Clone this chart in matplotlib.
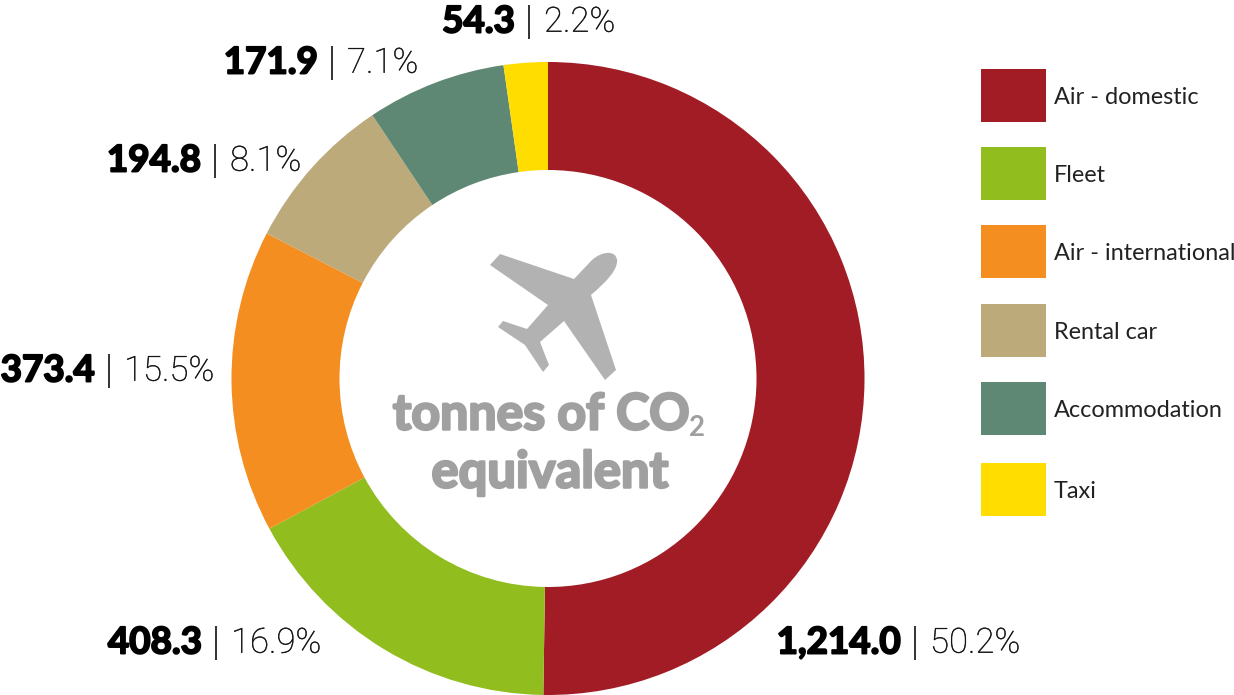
import matplotlib
matplotlib.use("Agg")
import matplotlib.pyplot as plt
import matplotlib.patheffects as pe
from matplotlib.patches import PathPatch, Rectangle
from matplotlib.path import Path

categories = ["Air - domestic", "Fleet", "Air - international", "Rental car", "Accommodation", "Taxi"]
tonnes = [1214.0, 408.3, 373.4, 194.8, 171.9, 54.3]
value_labels = ["1,214.0", "408.3", "373.4", "194.8", "171.9", "54.3"]
share_labels = ["50.2%", "16.9%", "15.5%", "8.1%", "7.1%", "2.2%"]
colors = ["#A21C26", "#91BD1F", "#F48E20", "#BDAA7B", "#5E8873", "#FFDD00"]

W, H = 1234, 695
fig = plt.figure(figsize=(W / 100, H / 100), dpi=100)
ax = fig.add_axes([0, 0, 1, 1])

# The y axis runs downward, so a counter-clockwise pie reads clockwise from the top.
cx, cy, R = 548, 378.5, 316.5
ax.pie(tonnes, colors=colors, startangle=-90, counterclock=True, center=(cx, cy), radius=R,
       wedgeprops=dict(width=R - 208.5, linewidth=0), frame=True)
ax.set_xlim(0, W)
ax.set_ylim(H, 0)
ax.set_aspect("equal")
ax.axis("off")


def heavy(color, width):
    """Thicken a bold face with an outline of its own colour."""
    return [pe.withStroke(linewidth=width, foreground=color)]


# value | share labels, anchored on the divider bar
label_pos = [(915, 643), (216, 643), (109, 371), (215, 161), (332, 63), (529, 22)]
for (x, y), v, s in zip(label_pos, value_labels, share_labels):
    ax.text(x - 14, y, v, ha="right", va="center", fontsize=26.5, fontweight="bold",
            family="Lato", color="black", path_effects=heavy("black", 1.4))
    ax.plot([x, x], [y - 17, y + 17], color="#222222", linewidth=1.3, solid_capstyle="butt")
    ax.text(x + 15, y, s, ha="left", va="center", fontsize=25, family="Roboto", fontweight="light",
            color="#111111", path_effects=heavy("#555555", 0.3))

# legend swatches with labels
legend_y = [69, 147, 225, 304, 382, 463]
for y, c, name in zip(legend_y, colors, categories):
    ax.add_patch(Rectangle((981, y), 65, 53, facecolor=c, linewidth=0))
    ax.text(1054, y + 28.5, name, ha="left", va="center", fontsize=16.9, family="Lato", color="#222222")

# airplane icon in the ring's centre
plane_body = [(500, 254), (490, 265), (548, 305), (527, 329), (503, 321), (498, 327),
              (525, 345), (543, 372), (549, 365), (540, 342), (564, 321), (605, 380),
              (616, 370), (591, 295)]
plane_nose = [(606, 282), (618, 270), (617, 260), (616, 250), (602, 251), (592, 260), (574, 279)]
plane_path = Path(plane_body + plane_nose + [plane_body[0]] + [plane_body[0]],
                  [Path.MOVETO] + [Path.LINETO] * (len(plane_body) - 1)
                  + [Path.CURVE4] * 6 + [Path.LINETO] * 2 + [Path.CLOSEPOLY])
ax.add_patch(PathPatch(plane_path, facecolor="#B2B2B2", linewidth=0))

title_grey = "#A0A0A0"
ax.text(541, 415, "tonnes of CO", ha="center", va="center", fontsize=36, fontweight="bold",
        family="Lato", color=title_grey, path_effects=heavy(title_grey, 1.8))
ax.text(697, 428, "2", ha="center", va="center", fontsize=20, fontweight="bold", family="Lato", color=title_grey)
ax.text(550, 473, "equivalent", ha="center", va="center", fontsize=36.5, fontweight="bold",
        family="Lato", color=title_grey, path_effects=heavy(title_grey, 1.8))

fig.savefig("out.png", dpi=100, facecolor="white")
